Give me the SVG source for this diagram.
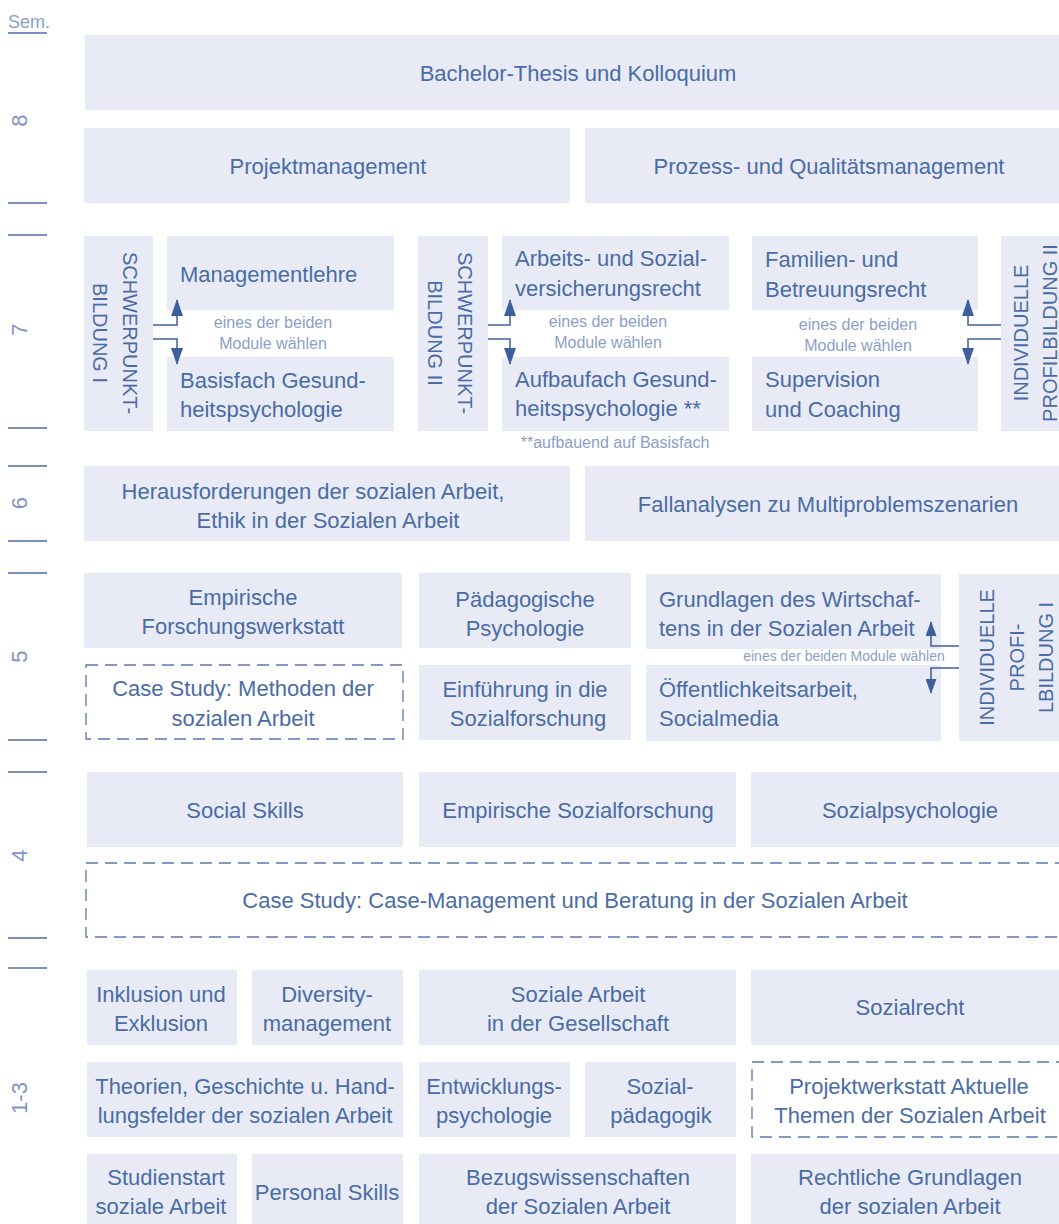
<svg xmlns="http://www.w3.org/2000/svg" width="1059" height="1224" viewBox="0 0 1059 1224">
<defs>
<style>
.b{fill:#e8ebf5}
.d{fill:none;stroke:#5a78ae;stroke-width:1.3;stroke-dasharray:12 7}
text{font-family:"Liberation Sans",Arial,sans-serif}
.t{font-size:22px;fill:#4a6ca6}
.c{text-anchor:middle}
.s{font-size:16px;fill:#8a9fc8;text-anchor:middle}
.v{font-size:20px;fill:#4a6ca6;text-anchor:middle}
.n{font-size:22px;fill:#7d95c4;text-anchor:middle}
.ln{stroke:#4c6ca6;stroke-width:1.3}
.ar{fill:none;stroke:#3f5f9c;stroke-width:1.5}
</style>
<marker id="ah" markerUnits="userSpaceOnUse" markerWidth="17" markerHeight="12" refX="16" refY="6" orient="auto"><path d="M0,0 L17,6 L0,12 z" fill="#3f5f9c"/></marker>
<marker id="ah2" markerUnits="userSpaceOnUse" markerWidth="15" markerHeight="11" refX="14" refY="5.5" orient="auto"><path d="M0,0 L15,5.5 L0,11 z" fill="#3f5f9c"/></marker>
</defs>
<rect width="1059" height="1224" fill="#ffffff"/>

<g id="semester-axis">
<text x="8" y="28" style="font-size:18px;fill:#8a9fc8">Sem.</text>
<line class="ln" x1="8" y1="33" x2="47" y2="33"/>
<text class="n" transform="translate(27,120.5) rotate(-90)">8</text>
<line class="ln" x1="8" y1="203" x2="47" y2="203"/>
<line class="ln" x1="8" y1="235" x2="47" y2="235"/>
<text class="n" transform="translate(27,329.5) rotate(-90)">7</text>
<line class="ln" x1="8" y1="428" x2="47" y2="428"/>
<line class="ln" x1="8" y1="466" x2="47" y2="466"/>
<text class="n" transform="translate(27,503) rotate(-90)">6</text>
<line class="ln" x1="8" y1="541" x2="47" y2="541"/>
<line class="ln" x1="8" y1="573" x2="47" y2="573"/>
<text class="n" transform="translate(27,656.5) rotate(-90)">5</text>
<line class="ln" x1="8" y1="740" x2="47" y2="740"/>
<line class="ln" x1="8" y1="772" x2="47" y2="772"/>
<text class="n" transform="translate(27,855.5) rotate(-90)">4</text>
<line class="ln" x1="8" y1="938" x2="47" y2="938"/>
<line class="ln" x1="8" y1="968" x2="47" y2="968"/>
<text class="n" transform="translate(27,1098) rotate(-90)">1-3</text>
</g>

<g id="bachelor-thesis"><rect class="b" x="85" y="35" width="974" height="75"/><text class="t c" x="578" y="81">Bachelor-Thesis und Kolloquium</text></g>
<g id="projektmanagement"><rect class="b" x="84" y="128" width="486" height="75"/><text class="t c" x="328" y="174">Projektmanagement</text></g>
<g id="prozessmanagement"><rect class="b" x="585" y="128" width="474" height="75"/><text class="t c" x="829" y="174">Prozess- und Qualitätsmanagement</text></g>

<g id="schwerpunkt-1"><rect class="b" x="84" y="236" width="69" height="195"/><text class="v" transform="translate(123,333) rotate(90)"><tspan x="0" y="0">SCHWERPUNKT-</tspan><tspan x="0" y="30">BILDUNG I</tspan></text></g>
<g id="managementlehre"><rect class="b" x="167" y="236" width="227" height="74"/><text class="t" x="180" y="282">Managementlehre</text></g>
<g id="basisfach"><rect class="b" x="167" y="357" width="227" height="74"/><text class="t" x="180" y="388"><tspan x="180" y="388">Basisfach Gesund-</tspan><tspan x="180" y="417">heitspsychologie</tspan></text></g>
<text class="s" x="273" y="328">eines der beiden</text>
<text class="s" x="273" y="349">Module wählen</text>

<g id="schwerpunkt-2"><rect class="b" x="418" y="236" width="70" height="195"/><text class="v" transform="translate(458,333) rotate(90)"><tspan x="0" y="0">SCHWERPUNKT-</tspan><tspan x="0" y="30">BILDUNG II</tspan></text></g>
<g id="arbeitsrecht"><rect class="b" x="502" y="236" width="227" height="74"/><text class="t"><tspan x="515" y="266">Arbeits- und Sozial-</tspan><tspan x="515" y="296">versicherungsrecht</tspan></text></g>
<g id="aufbaufach"><rect class="b" x="502" y="357" width="227" height="74"/><text class="t"><tspan x="515" y="387">Aufbaufach Gesund-</tspan><tspan x="515" y="416">heitspsychologie **</tspan></text></g>
<text class="s" x="608" y="327">eines der beiden</text>
<text class="s" x="608" y="348">Module wählen</text>
<text class="s" x="615" y="448">**aufbauend auf Basisfach</text>

<g id="familienrecht"><rect class="b" x="752" y="236" width="226" height="74"/><text class="t"><tspan x="765" y="267">Familien- und</tspan><tspan x="765" y="297">Betreuungsrecht</tspan></text></g>
<g id="supervision"><rect class="b" x="752" y="357" width="226" height="74"/><text class="t"><tspan x="765" y="387">Supervision</tspan><tspan x="765" y="417">und Coaching</tspan></text></g>
<text class="s" x="858" y="330">eines der beiden</text>
<text class="s" x="858" y="351">Module wählen</text>
<g id="profilbildung-2"><rect class="b" x="1001" y="236" width="58" height="195"/><text class="v" transform="translate(1028,333) rotate(-90)"><tspan x="0" y="0">INDIVIDUELLE</tspan><tspan x="0" y="29">PROFILBILDUNG II</tspan></text></g>

<g id="herausforderungen"><rect class="b" x="84" y="466" width="486" height="75"/><text class="t c"><tspan x="313" y="499">Herausforderungen der sozialen Arbeit,</tspan><tspan x="328" y="528">Ethik in der Sozialen Arbeit</tspan></text></g>
<g id="fallanalysen"><rect class="b" x="585" y="466" width="474" height="75"/><text class="t c" x="828" y="512">Fallanalysen zu Multiproblemszenarien</text></g>

<g id="forschungswerkstatt"><rect class="b" x="84" y="573" width="318" height="75"/><text class="t c"><tspan x="243" y="605">Empirische</tspan><tspan x="243" y="634">Forschungswerkstatt</tspan></text></g>
<g id="case-study-methoden"><rect class="d" x="86" y="665" width="317" height="74"/><text class="t c"><tspan x="243" y="696">Case Study: Methoden der</tspan><tspan x="243" y="726">sozialen Arbeit</tspan></text></g>
<g id="paedagogische-psychologie"><rect class="b" x="419" y="573" width="212" height="75"/><text class="t c"><tspan x="525" y="607">Pädagogische</tspan><tspan x="525" y="636">Psychologie</tspan></text></g>
<g id="einfuehrung-sozialforschung"><rect class="b" x="419" y="665" width="212" height="75"/><text class="t c"><tspan x="525" y="697">Einführung in die</tspan><tspan x="528" y="726">Sozialforschung</tspan></text></g>
<g id="grundlagen-wirtschaften"><rect class="b" x="646" y="574" width="295" height="75"/><text class="t"><tspan x="659" y="607">Grundlagen des Wirtschaf-</tspan><tspan x="659" y="636">tens in der Sozialen Arbeit</tspan></text></g>
<g id="oeffentlichkeitsarbeit"><rect class="b" x="646" y="665" width="295" height="76"/><text class="t"><tspan x="659" y="697">Öffentlichkeitsarbeit,</tspan><tspan x="659" y="726">Socialmedia</tspan></text></g>
<text class="s" x="844" y="661" style="font-size:14px">eines der beiden Module wählen</text>
<g id="profilbildung-1"><rect class="b" x="959" y="574" width="100" height="167"/><text class="v" transform="translate(994,657.5) rotate(-90)"><tspan x="0" y="0">INDIVIDUELLE</tspan><tspan x="0" y="29.5">PROFI-</tspan><tspan x="0" y="59">LBILDUNG I</tspan></text></g>

<g id="social-skills"><rect class="b" x="87" y="772" width="316" height="75"/><text class="t c" x="245" y="818">Social Skills</text></g>
<g id="empirische-sozialforschung"><rect class="b" x="419" y="772" width="317" height="75"/><text class="t c" x="578" y="818">Empirische Sozialforschung</text></g>
<g id="sozialpsychologie"><rect class="b" x="751" y="772" width="308" height="75"/><text class="t c" x="910" y="818">Sozialpsychologie</text></g>
<g id="case-study-management"><rect class="d" x="86" y="863" width="990" height="74"/><text class="t c" x="575" y="908">Case Study: Case-Management und Beratung in der Sozialen Arbeit</text></g>

<g id="inklusion"><rect class="b" x="87" y="970" width="150" height="75"/><text class="t c"><tspan x="161" y="1002">Inklusion und</tspan><tspan x="161" y="1031">Exklusion</tspan></text></g>
<g id="diversity"><rect class="b" x="252" y="970" width="151" height="75"/><text class="t c"><tspan x="327" y="1002">Diversity-</tspan><tspan x="327" y="1031">management</tspan></text></g>
<g id="soziale-arbeit-gesellschaft"><rect class="b" x="419" y="970" width="317" height="75"/><text class="t c"><tspan x="578" y="1002">Soziale Arbeit</tspan><tspan x="578" y="1031">in der Gesellschaft</tspan></text></g>
<g id="sozialrecht"><rect class="b" x="751" y="970" width="308" height="75"/><text class="t c" x="910" y="1015">Sozialrecht</text></g>

<g id="theorien"><rect class="b" x="87" y="1062" width="316" height="75"/><text class="t c"><tspan x="245" y="1094">Theorien, Geschichte u. Hand-</tspan><tspan x="245" y="1123">lungsfelder der sozialen Arbeit</tspan></text></g>
<g id="entwicklungspsychologie"><rect class="b" x="419" y="1062" width="151" height="75"/><text class="t c"><tspan x="494" y="1094">Entwicklungs-</tspan><tspan x="494" y="1123">psychologie</tspan></text></g>
<g id="sozialpaedagogik"><rect class="b" x="585" y="1062" width="151" height="75"/><text class="t c"><tspan x="660" y="1094">Sozial-</tspan><tspan x="661" y="1123">pädagogik</tspan></text></g>
<g id="projektwerkstatt"><rect class="d" x="752" y="1062" width="324" height="75"/><text class="t c"><tspan x="909" y="1094">Projektwerkstatt Aktuelle</tspan><tspan x="910" y="1123">Themen der Sozialen Arbeit</tspan></text></g>

<g id="studienstart"><rect class="b" x="87" y="1154" width="150" height="80"/><text class="t c"><tspan x="166" y="1185">Studienstart</tspan><tspan x="161" y="1214">soziale Arbeit</tspan></text></g>
<g id="personal-skills"><rect class="b" x="252" y="1154" width="151" height="80"/><text class="t c" x="327" y="1200">Personal Skills</text></g>
<g id="bezugswissenschaften"><rect class="b" x="419" y="1154" width="317" height="80"/><text class="t c"><tspan x="578" y="1185">Bezugswissenschaften</tspan><tspan x="578" y="1214">der Sozialen Arbeit</tspan></text></g>
<g id="rechtliche-grundlagen"><rect class="b" x="751" y="1154" width="308" height="80"/><text class="t c"><tspan x="910" y="1185">Rechtliche Grundlagen</tspan><tspan x="910" y="1214">der sozialen Arbeit</tspan></text></g>

<g id="connectors">
<path class="ar" d="M153,325 H177 V300" marker-end="url(#ah)"/>
<path class="ar" d="M153,339 H177 V364" marker-end="url(#ah)"/>
<path class="ar" d="M488,325 H510 V300" marker-end="url(#ah)"/>
<path class="ar" d="M488,339 H510 V364" marker-end="url(#ah)"/>
<path class="ar" d="M1001,325 H968 V300" marker-end="url(#ah)"/>
<path class="ar" d="M1001,339 H968 V364" marker-end="url(#ah)"/>
<path class="ar" d="M959,646 H931 V622" marker-end="url(#ah2)"/>
<path class="ar" d="M959,668 H931 V693" marker-end="url(#ah2)"/>
</g>
</svg>
